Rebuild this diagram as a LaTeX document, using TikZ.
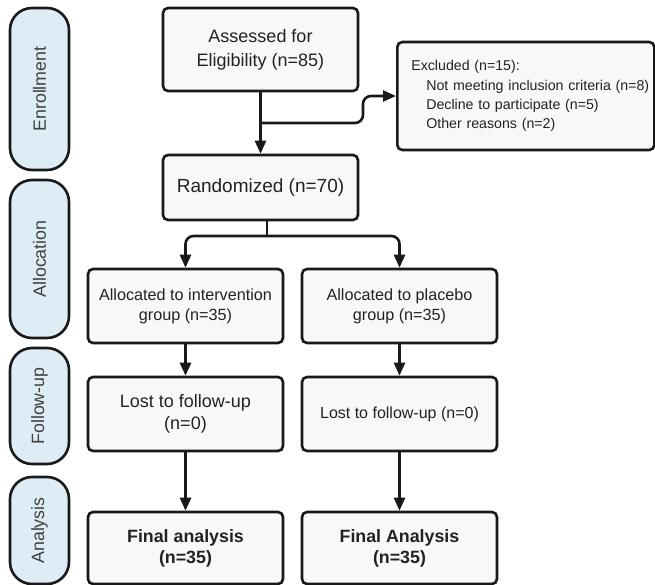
\documentclass[tikz,border=0pt]{standalone}
\usepackage{fontspec}
\setmainfont{Liberation Sans}
\usetikzlibrary{arrows.meta,calc}
\definecolor{phasecol}{RGB}{222,236,245}
\definecolor{boxcol}{RGB}{248,248,248}
\definecolor{inkcol}{RGB}{25,25,25}
\definecolor{txtcol}{RGB}{34,34,34}

\begin{document}
\begin{tikzpicture}[x=0.5pt,y=-0.5pt,
  phase/.style={draw=inkcol,line width=1.3pt,fill=phasecol,rounded corners=11pt,rotate=90,
    minimum height=29.5pt,inner sep=0pt,text=black!75,font=\fontsize{8.9}{10}\selectfont},
  stepbox/.style={draw=inkcol,line width=1.3pt,fill=boxcol,rounded corners=2.5pt,
    minimum width=97.5pt,align=center,inner sep=2pt,text=txtcol},
  arr/.style={-{Triangle[length=6.5pt,width=5.5pt]},line width=1.3pt,draw=inkcol},
  link/.style={line width=1.3pt,draw=inkcol}]
\useasboundingbox (0,0) rectangle (655,585);
% phases on the left
\node[phase,minimum width=81pt] (enrol) at (39.5,89) {Enrollment};
\node[phase,minimum width=79pt] (alloc) at (39.5,259) {Allocation};
\node[phase,minimum width=58pt] (follow) at (39.5,406) {Follow-up};
\node[phase,minimum width=53.5pt] (anal) at (39.5,530.5) {Analysis};
% enrollment
\node[stepbox,minimum height=41.5pt,font=\fontsize{9}{12}\selectfont] (assess) at (260.5,49.5) {Assessed for\\Eligibility (n=85)};
\node[stepbox,anchor=west,align=left,text width=114.5pt,inner xsep=7pt,minimum height=54pt,font=\fontsize{7.1}{9.6}\selectfont] (excl) at (396,96)
  {Excluded (n=15):\\\hspace*{7.5pt}\mbox{Not meeting inclusion criteria (n=8)}\\\hspace*{7.5pt}Decline to participate (n=5)\\\hspace*{7.5pt}Other reasons (n=2)};
\node[stepbox,minimum height=32.5pt,font=\fontsize{9.5}{12}\selectfont] (rand) at (260.5,187.5) {Randomized (n=70)};
% allocation
\node[stepbox,minimum height=37pt,font=\fontsize{8.1}{10}\selectfont] (intv) at (185.5,306) {Allocated to intervention\\group (n=35)};
\node[stepbox,minimum height=37pt,font=\fontsize{8.1}{10}\selectfont] (plac) at (399.5,306) {Allocated to placebo\\group (n=35)};
% follow-up
\node[stepbox,minimum height=37pt,font=\fontsize{9}{11}\selectfont] (lost1) at (185.5,414) {Lost to follow-up\\(n=0)};
\node[stepbox,minimum height=37pt,font=\fontsize{8}{10}\selectfont] (lost2) at (399.5,414) {Lost to follow-up (n=0)};
% analysis
\node[stepbox,minimum height=36pt,font=\fontsize{8.9}{10.5}\selectfont\bfseries] (fin1) at (185.5,548) {Final analysis\\(n=35)};
\node[stepbox,minimum height=36pt,font=\fontsize{8.9}{10.5}\selectfont\bfseries] (fin2) at (399.5,548) {Final Analysis\\(n=35)};
% connectors
\coordinate (brk) at ($(assess.south)!0.5!(rand.north)$);
\coordinate (jog) at (363,123);
\coordinate (split) at (267,236);
\draw[arr] (assess) -- (rand);
\draw[arr,rounded corners=4pt] (brk) -- (jog) |- (excl.west);
\draw[link] (split |- rand.south) -- (split);
\draw[arr,rounded corners=4pt] (split) -| (intv.north);
\draw[arr,rounded corners=4pt] (split) -| (plac.north);
\draw[arr] (intv) -- (lost1);
\draw[arr] (plac) -- (lost2);
\draw[arr] (lost1) -- (fin1);
\draw[arr] (lost2) -- (fin2);
\end{tikzpicture}
\end{document}
